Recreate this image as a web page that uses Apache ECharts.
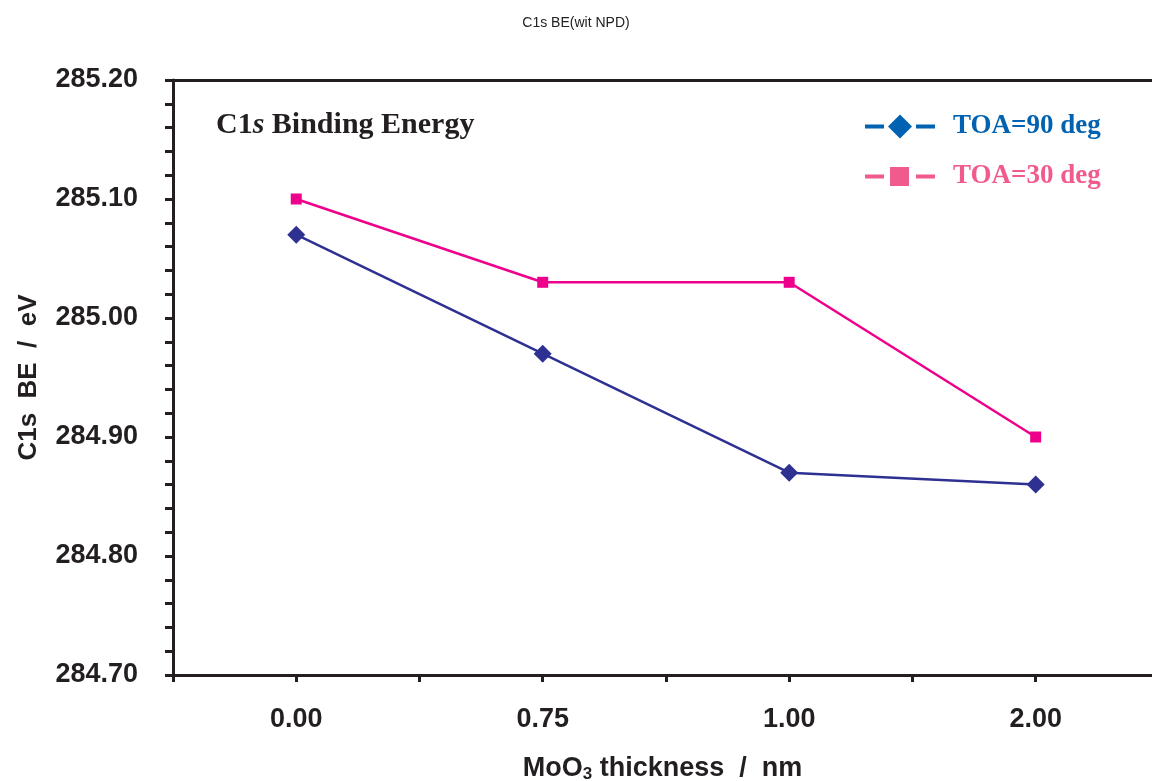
<!DOCTYPE html>
<html>
<head>
<meta charset="utf-8">
<script src="https://cdn.jsdelivr.net/npm/echarts@6/dist/echarts.min.js"></script>
<style>
html,body{margin:0;padding:0;background:#fff;}
#main{width:1152px;height:781px;}
</style>
</head>
<body>
<div id="main"></div>
<script>
// thickness categories and binding energies
var thickness = ['0.00', '0.75', '1.00', '2.00'];
var toa90 = [285.07, 284.97, 284.87, 284.86];
var toa30 = [285.10, 285.03, 285.03, 284.90];
var yTicks = ['284.70', '284.80', '284.90', '285.00', '285.10', '285.20'];

function drawChart(){
var chart = echarts.init(document.getElementById('main'));

function pts(arr){
    return arr.map(function (v, i) { return [i, v]; });
}

var labelFont = {fontFamily: 'Liberation Sans', fontWeight: 'bold', fontSize: 27, color: '#231f20'};

// legend icons: dash - marker - dash
var iconDiamond = 'path://M0 10h19v4h-19z M23 12L35 0L47 12L35 24z M51 10h19v4h-19z';
var iconSquare = 'path://M0 7.5h19v4h-19z M25 0h19v19h-19z M51 7.5h19v4h-19z';

var option = {
    backgroundColor: '#ffffff',
    animation: false,
    title: {
        text: 'C1s BE(wit NPD)',
        left: 'center',
        top: 11,
        textStyle: {fontFamily: 'Liberation Sans', fontWeight: 'normal', fontSize: 14, color: '#222'}
    },
    graphic: [{
        type: 'text',
        left: 216,
        top: 110,
        style: {
            text: '{a|C1}{b|s}{a| Binding Energy}',
            rich: {
                a: {fontFamily: 'Liberation Serif', fontWeight: 'bold', fontSize: 30, fill: '#231f20'},
                b: {fontFamily: 'Liberation Serif', fontWeight: 'bold', fontStyle: 'italic', fontSize: 30, fill: '#231f20'}
            }
        }
    }],
    legend: {
        orient: 'vertical',
        left: 865,
        top: 113,
        padding: 0,
        itemWidth: 70,
        itemHeight: 24,
        itemGap: 23,
        textStyle: {fontFamily: 'Liberation Serif', fontWeight: 'bold', fontSize: 27, lineHeight: 24, padding: [0, 0, 0, 13]},
        data: [
            {name: 'TOA=90 deg', icon: iconDiamond, textStyle: {color: '#0062b0'}, itemStyle: {color: '#0062b0'}},
            {name: 'TOA=30 deg', icon: iconSquare, textStyle: {color: '#f05a8c'}, itemStyle: {color: '#f05a8c'}}
        ]
    },
    grid: {
        left: 173,
        top: 80,
        right: 0,
        height: 595,
        outerBoundsMode: 'none'
    },
    xAxis: [{
        type: 'value',
        min: -0.5,
        max: 3.472,
        interval: 0.5,
        name: '{a|MoO}{s|3}{a| thickness  /  nm}',
        nameLocation: 'middle',
        nameGap: 79,
        nameTextStyle: {
            rich: {
                a: {fontFamily: 'Liberation Sans', fontWeight: 'bold', fontSize: 27, color: '#231f20'},
                s: {fontFamily: 'Liberation Sans', fontWeight: 'bold', fontSize: 17, color: '#231f20', padding: [12, 0, 0, 0]}
            }
        },
        splitLine: {show: false},
        axisLine: {onZero: false, lineStyle: {color: '#231f20', width: 3}},
        axisTick: {show: true, length: 7, lineStyle: {color: '#231f20', width: 3}},
        axisLabel: Object.assign({
            margin: 31,
            showMinLabel: true,
            showMaxLabel: false,
            formatter: function (v) {
                return (Math.abs(v - Math.round(v)) < 1e-6 && thickness[Math.round(v)]) ? thickness[Math.round(v)] : '';
            }
        }, labelFont)
    }, {
        type: 'value',
        position: 'top',
        min: -0.5,
        max: 3.472,
        axisLine: {show: true, onZero: false, lineStyle: {color: '#231f20', width: 3}},
        axisTick: {show: false},
        axisLabel: {show: false},
        splitLine: {show: false}
    }],
    yAxis: {
        type: 'value',
        min: 284.7,
        max: 285.2,
        interval: 0.1,
        name: 'C1s  BE  /  eV',
        nameLocation: 'middle',
        nameGap: 131,
        nameTextStyle: {fontFamily: 'Liberation Sans', fontWeight: 'bold', fontSize: 26, color: '#231f20'},
        splitLine: {show: false},
        axisLine: {show: true, onZero: false, lineStyle: {color: '#231f20', width: 3}},
        axisTick: {show: true, length: 8, lineStyle: {color: '#231f20', width: 3}},
        minorTick: {show: true, splitNumber: 5, length: 8, lineStyle: {color: '#231f20', width: 3}},
        axisLabel: Object.assign({
            margin: 35,
            formatter: function (v) {
                return yTicks[Math.round((v - 284.7) * 10)];
            }
        }, labelFont)
    },
    series: [
        {
            name: 'TOA=90 deg',
            type: 'line',
            data: pts(toa90),
            symbol: 'diamond',
            symbolSize: 18,
            color: '#2e3192',
            lineStyle: {color: '#2e3192', width: 2.5},
            itemStyle: {color: '#2e3192'}
        },
        {
            name: 'TOA=30 deg',
            type: 'line',
            data: pts(toa30),
            symbol: 'rect',
            symbolSize: 11,
            color: '#ec008c',
            lineStyle: {color: '#ec008c', width: 2.5},
            itemStyle: {color: '#ec008c'}
        }
    ]
};

chart.setOption(option);
}

drawChart();
</script>
</body>
</html>
